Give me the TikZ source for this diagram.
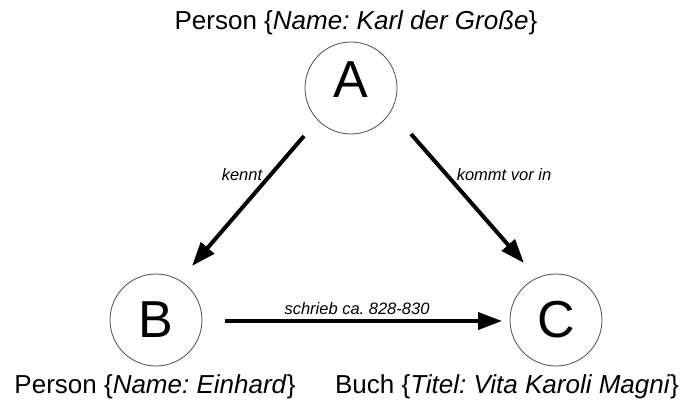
\documentclass[tikz,border=0pt]{standalone}
\usepackage{fontspec}
\setmainfont{Liberation Sans}
\usetikzlibrary{arrows.meta,calc}
\frenchspacing
\begin{document}
\begin{tikzpicture}[x=1pt,y=-1pt,
  entity/.style={circle,draw=black!70,line width=0.8pt,minimum size=92pt,inner sep=0pt,font=\fontsize{52}{60}\selectfont},
  caption/.style={inner sep=0pt,font=\fontsize{26}{30}\selectfont},
  rel/.style={line width=4pt,-{Triangle[length=24pt,width=17pt]}},
  rellabel/.style={inner sep=0pt,font=\fontsize{16.5}{19}\selectfont\itshape}]
\useasboundingbox (0,0) rectangle (698,409);

% entities
\node[entity] (A) at (351,88) {\raisebox{8pt}[\height][\depth]{A}};
\node[entity] (B) at (156,320) {B};
\node[entity] (C) at (556,320) {C};

% entity captions
\node[caption] (capA) at (356,23) {Person \{\textit{Name: Karl der Große}\}};
\node[caption] (capB) at (155,387) {Person \{\textit{Name: Einhard}\}};
\node[caption] (capC) at (507,387) {Buch \{\textit{Titel: Vita Karoli Magni}\}};

% relation end points
\coordinate (ab0) at ($(A)+(-47,48)$);
\coordinate (ab1) at ($(B)+(36,-54)$);
\coordinate (ac0) at ($(A)+(60,46)$);
\coordinate (ac1) at ($(C)+(-32,-57)$);
\coordinate (bc0) at ($(B)+(69,1)$);
\coordinate (bc1) at ($(C)+(-54,1)$);

% relations
\draw[rel] (ab0) -- (ab1);
\draw[rel] (ac0) -- (ac1);
\draw[rel] (bc0) -- (bc1);

% relation labels
\node[rellabel] (lab) at (242,175) {kennt};
\node[rellabel] (lac) at (504,175) {kommt vor in};
\node[rellabel] (lbc) at (357,309) {schrieb ca. 828-830};
\end{tikzpicture}
\end{document}
